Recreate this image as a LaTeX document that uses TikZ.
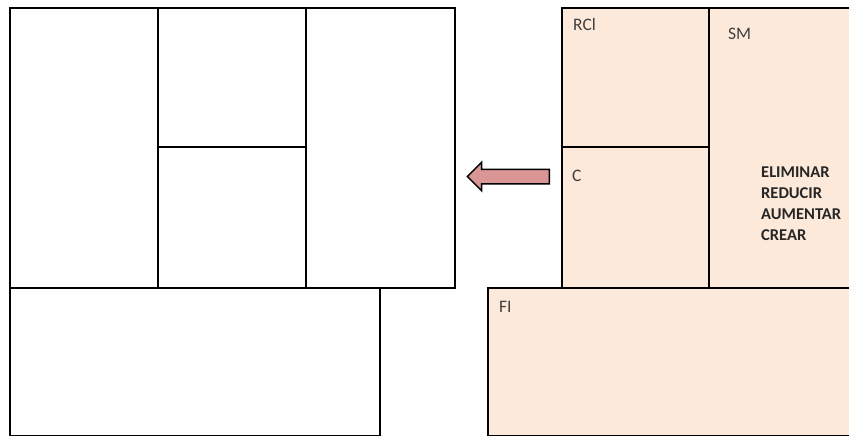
\documentclass[tikz,border=0pt]{standalone}
\usepackage{fontspec}
\setmainfont{Carlito}
\usetikzlibrary{shapes.arrows, positioning}
\definecolor{canvasfill}{HTML}{FDE9D9}
\definecolor{arrowfill}{HTML}{D99694}
\definecolor{labelgray}{HTML}{404040}

\begin{document}
\begin{tikzpicture}[
  x=1pt, y=-1pt,
  cell/.style={rectangle, draw, line width=1.5pt, inner sep=0pt, outer sep=0pt, anchor=north west},
  filledcell/.style={cell, fill=canvasfill},
  tag/.style={anchor=base west, inner sep=0pt, text=labelgray, font=\fontsize{17.5}{20}\selectfont},
  actions/.style={anchor=north west, inner sep=0pt, align=left, text=black!85, font=\fontsize{16.5}{21}\selectfont\bfseries},
  bigarrow/.style={single arrow, draw, line width=1.5pt, fill=arrowfill, inner xsep=0pt, inner ysep=6.5pt,
    minimum height=82pt, minimum width=0pt, single arrow head extend=7pt,
    single arrow head indent=0pt, shape border rotate=180}
]
  \useasboundingbox (0,0) rectangle (849,436);
  \clip (0,0) rectangle (849,436);

  % empty canvas
  \node[cell, minimum width=148pt, minimum height=280pt] (seg) at (10,8) {};
  \node[cell, minimum width=148pt, minimum height=139pt] (rciL) at (seg.north east) {};
  \node[cell, minimum width=148pt, minimum height=141pt] (cL) at (rciL.south west) {};
  \node[cell, minimum width=149pt, minimum height=280pt] (smL) at (rciL.north east) {};
  \node[cell, minimum width=370pt, minimum height=148pt] (fiL) at (seg.south west) {};

  % filled canvas
  \node[filledcell, minimum width=147pt, minimum height=139pt] (rci) at (562,8) {};
  \node[filledcell, minimum width=147pt, minimum height=141pt] (c) at (rci.south west) {};
  \node[filledcell, minimum width=160pt, minimum height=280pt] (sm) at (rci.north east) {};
  \node[filledcell, minimum width=380pt, minimum height=148pt] (fi) at (488,288) {};

  \node[tag] (rcitag) at (573,31) {RCl};
  \node[tag] (smtag) at (728,40) {SM};
  \node[tag] (ctag) at (572,181) {C};
  \node[tag] (fitag) at (499,312) {FI};
  \node[actions] (errc) at (761,167) {ELIMINAR\\REDUCIR\\AUMENTAR\\CREAR};

  \node[bigarrow] (move) at (512,176.5) {};
\end{tikzpicture}
\end{document}
